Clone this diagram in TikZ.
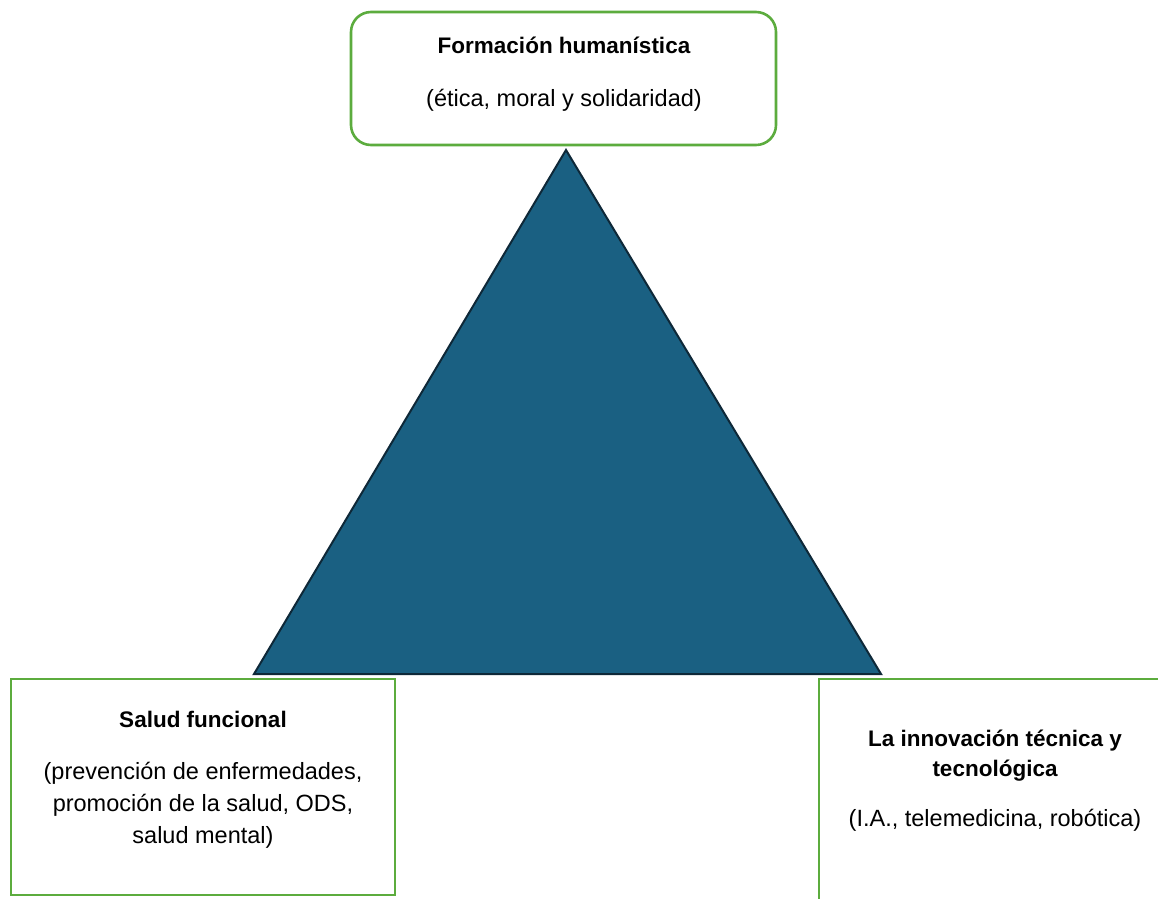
\documentclass[tikz,border=0pt]{standalone}
\usepackage{fontspec}
\setmainfont{Liberation Sans}
\definecolor{boxgreen}{RGB}{92,172,62}
\definecolor{trifill}{RGB}{26,96,130}
\definecolor{tristroke}{RGB}{14,40,56}
\tikzset{
  greenbox/.style={draw=boxgreen, line width=2.6pt, fill=white, inner sep=0pt},
  titletext/.style={font=\fontsize{22.5}{30}\selectfont\bfseries, align=center, inner sep=0pt},
  bodytext/.style={font=\fontsize{23.5}{32}\selectfont, align=center, inner sep=0pt},
  tri/.style={fill=trifill, draw=tristroke, line width=2pt, line join=miter}
}
\begin{document}
\begin{tikzpicture}[x=1pt,y=-1pt]
\useasboundingbox (0,0) rectangle (1158,898);
\begin{scope}
\clip (0,0) rectangle (1158,898);
% triangle
\coordinate (apex) at (566,150);
\coordinate (bl) at (254,674);
\coordinate (br) at (881,674);
\draw[tri] (apex) -- (bl) -- (br) -- cycle;
% top box
\node[greenbox, rounded corners=20pt, minimum width=425pt, minimum height=133pt] (topbox) at (563.5,78.5) {};
\node[titletext] (toptitle) at (564,45) {Formación humanística};
\node[bodytext] (topbody) at (564,100) {(ética, moral y solidaridad)};
% left box
\node[greenbox, minimum width=384pt, minimum height=216pt] (leftbox) at (203,787) {};
\node[titletext] (lefttitle) at (203,719) {Salud funcional};
\node[bodytext] (leftbody) at (203,805) {(prevención de enfermedades,\\promoción de la salud, ODS,\\salud mental)};
% right box
\node[greenbox, minimum width=354pt, minimum height=230pt] (rightbox) at (996,794) {};
\node[titletext] (righttitle) at (995,756) {La innovación técnica y\\tecnológica};
\node[bodytext] (rightbody) at (995,820) {(I.A., telemedicina, robótica)};
\end{scope}
\end{tikzpicture}
\end{document}
